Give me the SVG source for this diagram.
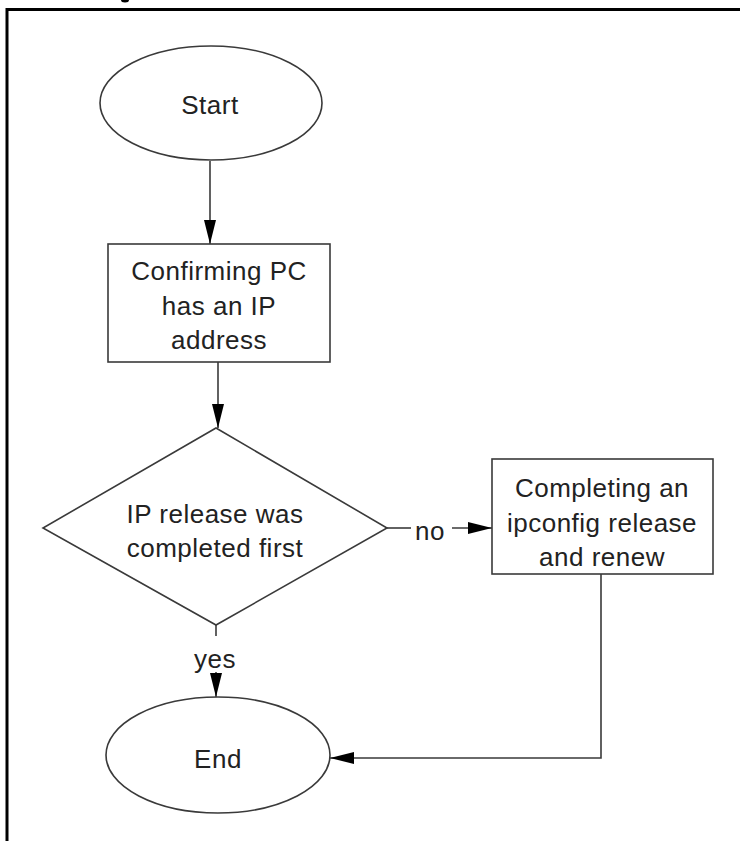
<svg xmlns="http://www.w3.org/2000/svg" width="740" height="841" viewBox="0 0 740 841">
<style>
  .shape { fill: #ffffff; stroke: #3a3a3a; stroke-width: 1.6; }
  .line { fill: none; stroke: #3a3a3a; stroke-width: 1.6; }
  .txt { font-family: "Liberation Sans", Arial, sans-serif; font-size: 26px; fill: #222222; text-anchor: middle; letter-spacing: 0.5px; }
  .frame { fill: none; stroke: #000000; stroke-width: 3; }
</style>
<defs>
  <marker id="arrow" viewBox="0 0 24 12" refX="24" refY="6" markerWidth="24" markerHeight="12" markerUnits="userSpaceOnUse" orient="auto">
    <path d="M0,0 L24,6 L0,12 z" fill="#000000"/>
  </marker>
</defs>
<rect width="740" height="841" fill="#ffffff"/>
<g id="frame">
  <path class="frame" d="M7,841 L7,9.5 L740,9.5"/>
  <ellipse cx="125" cy="0" rx="4" ry="2.5" fill="#000000"/>
</g>
<g id="connectors">
  <line class="line" x1="210" y1="161" x2="210" y2="244" marker-end="url(#arrow)"/>
  <line class="line" x1="218" y1="362" x2="218" y2="428" marker-end="url(#arrow)"/>
  <line class="line" x1="387" y1="528" x2="411" y2="528"/>
  <line class="line" x1="452" y1="528" x2="492" y2="528" marker-end="url(#arrow)"/>
  <text class="txt" x="430" y="540">no</text>
  <line class="line" x1="216" y1="625" x2="216" y2="636"/>
  <line class="line" x1="216" y1="672" x2="216" y2="697" marker-end="url(#arrow)"/>
  <text class="txt" x="215" y="668">yes</text>
  <polyline class="line" points="601,574 601,758 330,758" marker-end="url(#arrow)"/>
</g>
<g id="start">
  <ellipse class="shape" cx="211" cy="103" rx="111" ry="57"/>
  <text class="txt" x="210" y="114">Start</text>
</g>
<g id="confirm">
  <rect class="shape" x="108" y="244" width="222" height="118"/>
  <text class="txt" x="219" y="280">Confirming PC</text>
  <text class="txt" x="219" y="315">has an IP</text>
  <text class="txt" x="219" y="349">address</text>
</g>
<g id="decision">
  <polygon class="shape" points="216,428 387,528 216,625 43,528"/>
  <text class="txt" x="215" y="523">IP release was</text>
  <text class="txt" x="215" y="557">completed first</text>
</g>
<g id="renew">
  <rect class="shape" x="492" y="459" width="221" height="115"/>
  <text class="txt" x="602" y="497">Completing an</text>
  <text class="txt" x="602" y="532">ipconfig release</text>
  <text class="txt" x="602" y="566">and renew</text>
</g>
<g id="end">
  <ellipse class="shape" cx="218" cy="755" rx="112" ry="58"/>
  <text class="txt" x="218" y="768">End</text>
</g>
</svg>
